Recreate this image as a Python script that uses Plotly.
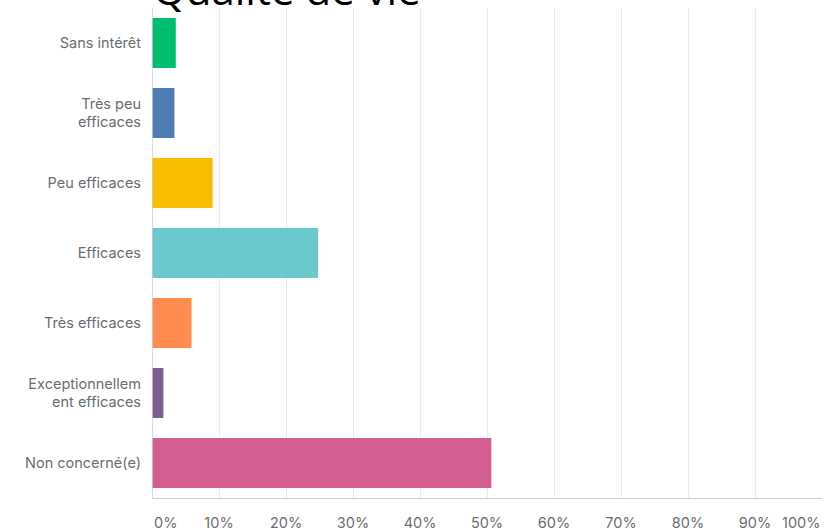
import plotly.graph_objects as go

title_text = "Qualité de vie"
categories = ["Sans intérêt", "Très peu<br>efficaces", "Peu efficaces", "Efficaces",
              "Très efficaces", "Exceptionnellem<br>ent efficaces", "Non concerné(e)"]
values = [3.55, 3.35, 9.05, 24.8, 5.9, 1.7, 50.65]
colors = ["#00BF6F", "#507CB6", "#F9BE00", "#6BC8CD", "#FF8B4F", "#7D5E90", "#D25F90"]
tick_vals = [0, 10, 20, 30, 40, 50, 60, 70, 80, 90, 100]
tick_labels = ["0%", "10%", "20%", "30%", "40%", "50%", "60%", "70%", "80%", "90%", "100%"]

label_font = dict(family="Inter, Roboto, Arial, sans-serif", size=14.5, color="#6b6d71")

fig = go.Figure(go.Bar(
    x=values, y=categories, orientation="h",
    marker=dict(color=colors, line=dict(width=0)),
    width=0.714, hoverinfo="skip",
))

mid_text = ["" if i in (0, len(tick_vals) - 1) else t for i, t in enumerate(tick_labels)]

fig.update_layout(
    width=824, height=531,
    margin=dict(l=152, r=2, t=8, b=33, autoexpand=False),
    paper_bgcolor="white", plot_bgcolor="white",
    showlegend=False,
    xaxis=dict(range=[0, 100], tickvals=tick_vals, ticktext=mid_text,
               showgrid=True, gridcolor="#ebebeb", gridwidth=1,
               zeroline=False, showline=True, linecolor="#cfcfcf", linewidth=1,
               tickfont=label_font, ticks="", ticklabelstandoff=12, fixedrange=True,
               automargin=False),
    yaxis=dict(categoryorder="array", categoryarray=categories, autorange="reversed",
               showgrid=False, zeroline=False, showline=False,
               tickfont=label_font, ticks="", ticklabelstandoff=10, fixedrange=True,
               automargin=False),
    shapes=[dict(type="line", xref="x", yref="paper", x0=0, x1=0, y0=0, y1=1,
                 line=dict(color="#cfcfcf", width=1.5))],
    annotations=[
        dict(text=tick_labels[0], x=tick_vals[0], xref="x", xanchor="left",
             y=0, yref="paper", yanchor="top", yshift=-14, showarrow=False, font=label_font),
        dict(text=tick_labels[-1], x=tick_vals[-1], xref="x", xanchor="right",
             y=0, yref="paper", yanchor="top", yshift=-14, showarrow=False, font=label_font),
        dict(text=title_text, x=0, xref="paper", xanchor="left", y=1, yref="paper",
             yanchor="bottom", yshift=-10, showarrow=False, borderpad=0,
             font=dict(family="Open Sans, sans-serif", size=42, color="#000000")),
    ],
)

fig.write_html("out.html", config={"displayModeBar": False},
               post_script="document.body.style.margin='0';")
